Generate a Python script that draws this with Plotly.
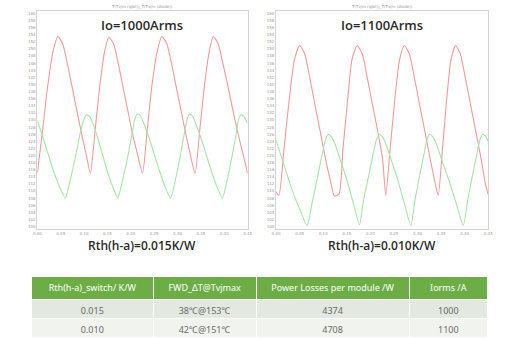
import plotly.graph_objects as go

# ---------------- data ----------------
y_ticks = list(range(100, 161, 2))
x_ticks = [0.00, 0.05, 0.10, 0.15, 0.20, 0.25, 0.30, 0.35, 0.40, 0.45]
x_tick_labels = ["0.00", "0.05", "0.10", "0.15", "0.20", "0.25", "0.30", "0.35", "0.40", "0.45"]

# Io = 1000 Arms, Rth = 0.015 K/W
t_red_1 = [0.000, 0.011, 0.022, 0.033, 0.044, 0.054, 0.064, 0.074, 0.084, 0.094, 0.104, 0.1135,
           0.1235, 0.1335, 0.1435, 0.153, 0.163, 0.173, 0.183, 0.193, 0.203, 0.214, 0.225,
           0.235, 0.245, 0.256, 0.2665, 0.277, 0.287, 0.297, 0.307, 0.317, 0.327, 0.3375,
           0.3475, 0.3575, 0.3675, 0.3765, 0.387, 0.397, 0.408, 0.418, 0.429, 0.440, 0.450]
T_red_1 = [115.0, 127.0, 139.5, 149.0, 153.5, 151.5, 146.0, 139.5, 133.0, 126.5, 120.5, 115.0,
           127.0, 139.5, 149.0, 153.3, 151.5, 146.0, 139.5, 133.0, 126.5, 120.5, 115.0,
           127.0, 139.5, 149.0, 153.5, 151.5, 146.0, 139.5, 133.0, 126.5, 120.5, 115.0,
           127.0, 139.5, 149.0, 153.5, 151.5, 146.0, 139.5, 133.0, 126.5, 120.5, 115.0]

t_grn_1 = [0.000, 0.012, 0.024, 0.036, 0.048, 0.0598,
           0.071, 0.082, 0.092, 0.100, 0.1055, 0.1115, 0.118,
           0.129, 0.140, 0.151, 0.162, 0.172,
           0.183, 0.194, 0.203, 0.209, 0.2145, 0.2205, 0.227,
           0.239, 0.251, 0.263, 0.274, 0.285,
           0.296, 0.306, 0.315, 0.321, 0.3256, 0.3316, 0.338,
           0.350, 0.362, 0.374, 0.385, 0.396,
           0.407, 0.417, 0.426, 0.431, 0.436, 0.442, 0.450]
T_grn_1 = [129.8, 125.0, 120.0, 115.0, 111.0, 108.0,
           113.5, 120.0, 126.5, 130.3, 131.5, 131.0, 129.3,
           125.0, 120.0, 115.0, 111.0, 108.0,
           113.5, 120.0, 126.5, 130.5, 131.7, 131.2, 129.3,
           125.0, 120.0, 115.0, 111.0, 108.0,
           113.5, 120.0, 126.5, 130.5, 131.7, 131.2, 129.3,
           125.0, 120.0, 115.0, 111.0, 108.0,
           113.5, 120.0, 126.5, 130.3, 131.5, 131.0, 129.0]

# Io = 1100 Arms, Rth = 0.010 K/W
t_red_2 = [0.000, 0.006, 0.017, 0.028, 0.039, 0.050, 0.061, 0.072, 0.083, 0.094, 0.105, 0.116, 0.1236,
           0.1335, 0.142, 0.152, 0.161, 0.172, 0.183, 0.194, 0.205, 0.216, 0.226, 0.2326,
           0.242, 0.252, 0.262, 0.272, 0.283, 0.294, 0.305, 0.316, 0.327, 0.337, 0.344,
           0.353, 0.362, 0.371, 0.3806, 0.391, 0.402, 0.413, 0.424, 0.435, 0.444, 0.450]
T_red_2 = [109.8, 108.8, 122.0, 136.0, 147.0, 151.0, 148.5, 141.5, 134.0, 126.5, 119.0, 112.5, 108.6,
           109.2, 122.0, 136.0, 147.0, 151.0, 148.5, 141.5, 134.0, 126.5, 119.0, 108.8,
           122.0, 136.0, 147.0, 151.0, 148.5, 141.5, 134.0, 126.5, 119.0, 112.5, 108.8,
           122.0, 136.0, 147.0, 151.0, 148.5, 141.5, 134.0, 126.5, 119.0, 112.0, 109.0]

t_grn_2 = [0.000, 0.013, 0.026, 0.039, 0.052, 0.066,
           0.077, 0.088, 0.098, 0.105, 0.111, 0.117, 0.124, 0.137, 0.150, 0.163, 0.177,
           0.185, 0.196, 0.206, 0.213, 0.219, 0.225, 0.232, 0.245, 0.258, 0.271, 0.286,
           0.294, 0.304, 0.314, 0.320, 0.326, 0.332, 0.339, 0.352, 0.366, 0.381, 0.397,
           0.406, 0.416, 0.426, 0.4326, 0.4386, 0.4446, 0.450]
T_grn_2 = [124.2, 119.0, 113.5, 108.5, 104.3, 100.3,
           107.0, 114.0, 120.5, 124.5, 126.0, 125.3, 123.6, 118.5, 113.2, 107.0, 100.5,
           107.0, 114.0, 120.5, 124.5, 126.0, 125.3, 123.6, 118.5, 113.2, 107.0, 100.3,
           107.0, 114.0, 120.5, 124.5, 126.0, 125.3, 123.6, 118.5, 113.2, 107.0, 100.3,
           107.0, 114.0, 120.5, 124.5, 126.0, 125.3, 124.0]

chart_titles = ["Io=1000Arms", "Io=1100Arms"]
chart_captions = ["Rth(h-a)=0.015K/W", "Rth(h-a)=0.010K/W"]
small_title = "T(Tvjm (igbt))_T(Tvjm (diode))"

table_header = ["Rth(h-a)_switch/ K/W", "FWD_\u0394T@Tvjmax", "Power Losses per module /W", "Iorms /A"]
col_rth = ["0.015", "0.010"]
col_dt = ["38\u2103@153\u2103", "42\u2103@151\u2103"]
col_loss = ["4374", "4708"]
col_irms = ["1000", "1100"]

# ---------------- figure ----------------
RED = "#f29a9a"
GREEN = "#a6e4a6"
W, H = 506, 339
LINE_W = 1.1

fig = go.Figure()
for xs, ys, col, xa, ya in [(t_red_1, T_red_1, RED, "x", "y"), (t_grn_1, T_grn_1, GREEN, "x", "y"),
                            (t_red_2, T_red_2, RED, "x2", "y2"), (t_grn_2, T_grn_2, GREEN, "x2", "y2")]:
    fig.add_trace(go.Scatter(x=xs, y=ys, mode="lines",
                             line=dict(color=col, width=LINE_W, shape="spline", smoothing=0.6),
                             xaxis=xa, yaxis=ya, showlegend=False))

fig.add_trace(go.Table(
    domain=dict(x=[28 / W, 493 / W], y=[0.0, 1 - 276 / H]),
    columnwidth=[124, 105, 156, 80],
    header=dict(values=table_header, fill_color="#6cae45", line_color="#ffffff", line_width=1,
                font=dict(color="white", size=9, family="Noto Sans"), align="center", height=23),
    cells=dict(values=[col_rth, col_dt, col_loss, col_irms],
               fill_color=[["#e3e9e0", "#f1f3ef"]] * 4, line_color="#ffffff", line_width=1,
               font=dict(color="#6a6a6a", size=9, family="Noto Sans"), align="center", height=19),
))

y_dom = [1 - 229 / H, 1 - 11 / H]
x1_dom = [34 / W, 248 / W]
x2_dom = [277 / W, 493 / W]

axis_common = dict(showgrid=False, zeroline=False, showline=True, linecolor="#d4d4d4", linewidth=1,
                   mirror=True, ticks="", tickfont=dict(size=4, color="#999999", family="DejaVu Sans"))

fig.update_layout(
    width=W, height=H, margin=dict(l=0, r=0, t=0, b=0),
    paper_bgcolor="white", plot_bgcolor="white",
    xaxis=dict(domain=x1_dom, range=[0, 0.45], tickvals=x_ticks, ticktext=x_tick_labels, anchor="y", **axis_common),
    yaxis=dict(domain=y_dom, range=[99.3, 160.7], tickvals=y_ticks, anchor="x", **axis_common),
    xaxis2=dict(domain=x2_dom, range=[0, 0.45], tickvals=x_ticks, ticktext=x_tick_labels, anchor="y2", **axis_common),
    yaxis2=dict(domain=y_dom, range=[99.3, 160.7], tickvals=y_ticks, anchor="x2", **axis_common),
)

annos = []
for dom, title, cap in [(x1_dom, chart_titles[0], chart_captions[0]), (x2_dom, chart_titles[1], chart_captions[1])]:
    cx = (dom[0] + dom[1]) / 2
    annos.append(dict(x=cx, y=1 - 25 / H, xref="paper", yref="paper", text=title, showarrow=False,
                      font=dict(size=13, color="#2a2a2a", family="Open Sans", weight=600),
                      xanchor="center", yanchor="middle"))
    annos.append(dict(x=cx, y=1 - 245 / H, xref="paper", yref="paper", text=cap, showarrow=False,
                      font=dict(size=12, color="#2a2a2a", family="Open Sans", weight=600),
                      xanchor="center", yanchor="middle"))
    annos.append(dict(x=cx, y=1 - 6 / H, xref="paper", yref="paper", text=small_title, showarrow=False,
                      font=dict(size=4, color="#999999", family="DejaVu Sans"), xanchor="center", yanchor="middle"))
fig.update_layout(annotations=annos)

fig.write_html("out.html")
